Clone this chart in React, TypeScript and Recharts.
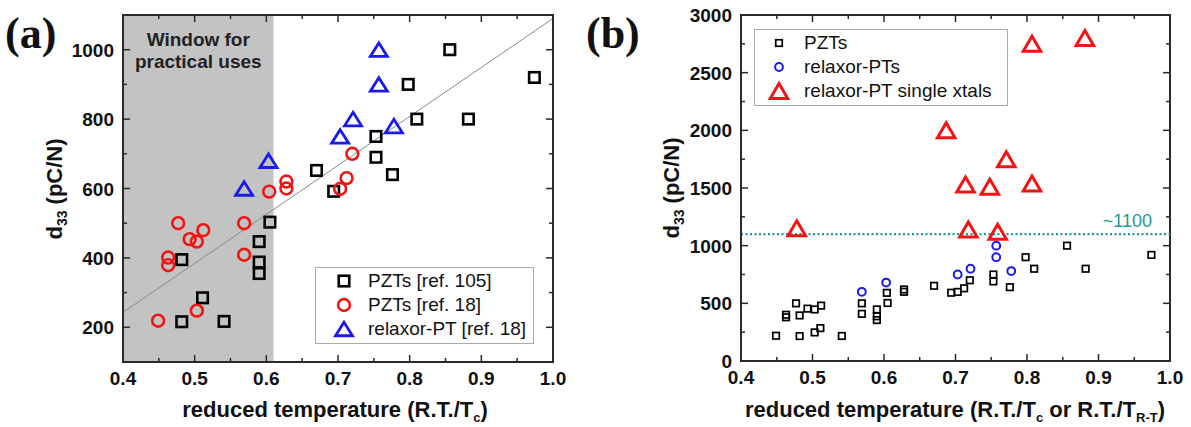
import React from "react";
import {
  ScatterChart,
  Scatter,
  XAxis,
  YAxis,
  ReferenceArea,
  ReferenceLine,
} from "recharts";

// ---- panel (a) data ----
const pzt105T = [0.856, 0.974, 0.798, 0.81, 0.882, 0.753, 0.753, 0.776, 0.67, 0.694, 0.605, 0.482, 0.59, 0.59, 0.59, 0.511, 0.482, 0.541];
const pzt105D = [1000, 920, 900, 800, 800, 750, 690, 640, 652, 592, 503, 395, 447, 388, 355, 285, 216, 217];

const pzt18T = [0.449, 0.463, 0.463, 0.477, 0.493, 0.503, 0.512, 0.503, 0.569, 0.569, 0.604, 0.628, 0.628, 0.703, 0.712, 0.72];
const pzt18D = [219, 401, 379, 500, 454, 447, 480, 248, 500, 409, 591, 620, 600, 599, 630, 700];

const relaxorT = [0.569, 0.603, 0.703, 0.721, 0.757, 0.757, 0.778];
const relaxorD = [600, 680, 750, 800, 1000, 900, 780];

// ---- panel (b) extra data ----
const xtalT = [0.478, 0.687, 0.714, 0.718, 0.748, 0.759, 0.771, 0.807, 0.807, 0.881];
const xtalD = [1150, 2000, 1530, 1140, 1510, 1120, 1750, 1540, 2750, 2800];

const trendT = [0.4, 1.0];
const trendD = [243, 1090];
const windowT = [0.4, 0.61];
const plateau = 1100;

const xDomain = [0.4, 1.0];
const yDomainA = [100, 1100];
const yDomainB = [0, 3000];
const xTicks = [0.4, 0.45, 0.5, 0.55, 0.6, 0.65, 0.7, 0.75, 0.8, 0.85, 0.9, 0.95, 1.0];
const yTicksA = [200, 300, 400, 500, 600, 700, 800, 900, 1000];
const yTicksB = [0, 250, 500, 750, 1000, 1250, 1500, 1750, 2000, 2250, 2500, 2750, 3000];

const legendA = ["PZTs [ref. 105]", "PZTs [ref. 18]", "relaxor-PT [ref. 18]"];
const legendB = ["PZTs", "relaxor-PTs", "relaxor-PT single xtals"];

const zip = (t: number[], d: number[]) => t.map((v, i) => ({ t: v, d: d[i] }));

const FONT = "Arial, 'Liberation Sans', Helvetica, sans-serif";
const RED = "#f21414";
const BLUE = "#1a1aee";
const TEAL = "#1f9999";
const AXIS = "#2a2a2a";

// marker shapes
const square = (s: number, c: string, w: number) => (p: any) =>
  <rect x={p.cx - s / 2} y={p.cy - s / 2} width={s} height={s} fill="none" stroke={c} strokeWidth={w} />;
const circle = (r: number, c: string, w: number) => (p: any) =>
  <circle cx={p.cx} cy={p.cy} r={r} fill="none" stroke={c} strokeWidth={w} />;
const triangle = (bw: number, h: number, c: string, w: number) => (p: any) =>
  <path d={`M${p.cx},${p.cy - h / 2}L${p.cx + bw / 2},${p.cy + h / 2}L${p.cx - bw / 2},${p.cy + h / 2}Z`} fill="none" stroke={c} strokeWidth={w} strokeLinejoin="miter" />;

const markersA = [square(10.5, "#000", 2.6), circle(5.9, RED, 2.6), triangle(17, 13.5, BLUE, 2.8)];
const markersB = [square(6.5, "#000", 1.7), circle(3.9, BLUE, 2), triangle(17.5, 15, RED, 3)];

const isTenth = (v: number) => Math.abs(v * 10 - Math.round(v * 10)) < 1e-6;
const majorA = (v: number) => v % 200 === 0;
const majorB = (v: number) => v % 500 === 0;
const fmtX = (v: number) => v.toFixed(1);
const fmtY = (v: number) => String(v);

// inward ticks, mirrored on the opposite edge of the box (span = plot size)
function BottomTick(props: any) {
  const { x, y, payload, span } = props;
  const v = payload.value;
  const len = isTenth(v) ? 7 : 4;
  const yt = y - span;
  return (
    <g>
      <line x1={x} y1={y} x2={x} y2={y - len} stroke={AXIS} strokeWidth={1.5} />
      <line x1={x} y1={yt} x2={x} y2={yt + len} stroke={AXIS} strokeWidth={1.5} />
      {isTenth(v) && <text x={x} y={y + 23} textAnchor="middle" fontFamily={FONT} fontWeight="bold" fontSize={19} fill="#111">{fmtX(v)}</text>}
    </g>
  );
}

function LeftTick(props: any) {
  const { x, y, payload, span, major } = props;
  const v = payload.value;
  const mj = major(v);
  const len = mj ? 7 : 4;
  const xr = x + span;
  return (
    <g>
      <line x1={x} y1={y} x2={x + len} y2={y} stroke={AXIS} strokeWidth={1.5} />
      <line x1={xr} y1={y} x2={xr - len} y2={y} stroke={AXIS} strokeWidth={1.5} />
      {mj && <text x={x - 9} y={y + 7} textAnchor="end" fontFamily={FONT} fontWeight="bold" fontSize={19} fill="#111">{fmtY(v)}</text>}
    </g>
  );
}

const axisLine = { stroke: AXIS, strokeWidth: 2 };

function YTitle({ x, y }: { x: number; y: number }) {
  return (
    <text x={x} y={y} transform={`rotate(-90, ${x}, ${y})`} textAnchor="middle" fontFamily={FONT} fontWeight="bold" fontSize={22} fill="#111">
      d<tspan fontSize={14} dy={5}>33</tspan><tspan dy={-5}> (pC/N)</tspan>
    </text>
  );
}

function XTitle({ x, y, both }: { x: number; y: number; both?: boolean }) {
  return (
    <text x={x} y={y} textAnchor="middle" fontFamily={FONT} fontWeight="bold" fontSize={22} fill="#111">
      reduced temperature (R.T./T<tspan fontSize={13} dy={5}>c</tspan>
      {both ? (
        <>
          <tspan dy={-5}> or R.T./T</tspan><tspan fontSize={13} dy={5}>R-T</tspan><tspan dy={-5}>)</tspan>
        </>
      ) : (
        <tspan dy={-5}>)</tspan>
      )}
    </text>
  );
}

function LegendBox({ names, markers, left, top, width, mx, tx }: any) {
  return (
    <div style={{ position: "absolute", left, top, width, border: "1px solid #aaa", background: "#fff", boxSizing: "border-box", padding: "1px 0 2px 0" }}>
      {names.map((n: string, i: number) => (
        <div key={n} style={{ position: "relative", height: 24 }}>
          <svg width={30} height={24} style={{ position: "absolute", left: mx - 15, top: 0 }}>
            {markers[i]({ cx: 15, cy: 12 })}
          </svg>
          <span style={{ position: "absolute", left: tx, top: 1, fontFamily: FONT, fontSize: 19, color: "#111", whiteSpace: "nowrap", lineHeight: "22px" }}>{n}</span>
        </div>
      ))}
    </div>
  );
}

function PanelA() {
  const W = 580, H = 427, m = { top: 15, right: 27, bottom: 0, left: 63 }, xh = 65, yw = 60;
  const plotW = W - m.left - m.right - yw;
  const plotH = H - m.top - m.bottom - xh;
  return (
    <ScatterChart width={W} height={H} margin={m}>
      <XAxis type="number" dataKey="t" domain={xDomain} ticks={xTicks} interval={0} height={xh}
        tickSize={0} tickMargin={0} tickLine={false} axisLine={axisLine}
        tick={<BottomTick span={plotH} />}
        label={{ content: () => <XTitle x={335} y={417} /> }} />
      <YAxis type="number" dataKey="d" domain={yDomainA} ticks={yTicksA} interval={0} width={yw}
        tickSize={0} tickMargin={0} tickLine={false} axisLine={axisLine}
        tick={<LeftTick span={plotW} major={majorA} />}
        label={{ content: () => <YTitle x={62} y={189} /> }} />
      <ReferenceArea x1={windowT[0]} x2={windowT[1]} y1={yDomainA[0]} y2={yDomainA[1]} fill="#c3c3c3" fillOpacity={1} stroke="none"
        label={{
          content: (p: any) => {
            const vb = p.viewBox;
            const cx = vb.x + vb.width / 2;
            return (
              <g fontFamily={FONT} fontWeight="bold" fontSize={19} fill="#222" textAnchor="middle">
                <text x={cx} y={vb.y + 31}>Window for</text>
                <text x={cx} y={vb.y + 53}>practical uses</text>
              </g>
            );
          },
        }} />
      <ReferenceArea x1={xDomain[0]} x2={xDomain[1]} y1={yDomainA[0]} y2={yDomainA[1]} fill="none" stroke={AXIS} strokeWidth={2} />
      <ReferenceLine segment={[{ x: trendT[0], y: trendD[0] }, { x: trendT[1], y: trendD[1] }]} stroke="#8a8a8a" strokeWidth={1} />
      <Scatter name={legendA[0]} data={zip(pzt105T, pzt105D)} shape={markersA[0]} isAnimationActive={false} />
      <Scatter name={legendA[1]} data={zip(pzt18T, pzt18D)} shape={markersA[1]} isAnimationActive={false} />
      <Scatter name={legendA[2]} data={zip(relaxorT, relaxorD)} shape={markersA[2]} isAnimationActive={false} />
    </ScatterChart>
  );
}

function PanelB() {
  const W = 591, H = 427, m = { top: 15, right: 21, bottom: 0, left: 71 }, xh = 66, yw = 70;
  const plotW = W - m.left - m.right - yw;
  const plotH = H - m.top - m.bottom - xh;
  return (
    <ScatterChart width={W} height={H} margin={m}>
      <XAxis type="number" dataKey="t" domain={xDomain} ticks={xTicks} interval={0} height={xh}
        tickSize={0} tickMargin={0} tickLine={false} axisLine={axisLine}
        tick={<BottomTick span={plotH} />}
        label={{ content: () => <XTitle x={355} y={417} both /> }} />
      <YAxis type="number" dataKey="d" domain={yDomainB} ticks={yTicksB} interval={0} width={yw}
        tickSize={0} tickMargin={0} tickLine={false} axisLine={axisLine}
        tick={<LeftTick span={plotW} major={majorB} />}
        label={{ content: () => <YTitle x={79} y={188} /> }} />
      <ReferenceArea x1={xDomain[0]} x2={xDomain[1]} y1={yDomainB[0]} y2={yDomainB[1]} fill="none" stroke={AXIS} strokeWidth={2} />
      <ReferenceLine y={plateau} stroke={TEAL} strokeWidth={2.2} strokeDasharray="2 2.5"
        label={{
          content: (p: any) => {
            const vb = p.viewBox;
            return (
              <text x={vb.x + vb.width - 18} y={vb.y - 7} textAnchor="end" fontFamily={FONT} fontSize={18} fill={TEAL}>~1100</text>
            );
          },
        }} />
      <Scatter name={legendB[0]} data={[...zip(pzt105T, pzt105D), ...zip(pzt18T, pzt18D)]} shape={markersB[0]} isAnimationActive={false} />
      <Scatter name={legendB[1]} data={zip(relaxorT, relaxorD)} shape={markersB[1]} isAnimationActive={false} />
      <Scatter name={legendB[2]} data={zip(xtalT, xtalD)} shape={markersB[2]} isAnimationActive={false} />
    </ScatterChart>
  );
}

export default function App() {
  const panelLabel: React.CSSProperties = {
    position: "absolute",
    fontFamily: "'Times New Roman', 'Liberation Serif', serif",
    fontWeight: "bold",
    fontSize: 44,
    lineHeight: "44px",
    color: "#111",
  };
  return (
    <div style={{ position: "absolute", left: 0, top: 0, width: 1191, height: 427, background: "#fff" }}>
      <div style={{ position: "absolute", left: 0, top: 0 }}>
        <PanelA />
      </div>
      <div style={{ position: "absolute", left: 600, top: 0 }}>
        <PanelB />
      </div>
      <LegendBox names={legendA} markers={markersA} left={315} top={267} width={219} mx={28} tx={52} />
      <LegendBox names={legendB} markers={markersB} left={754} top={29} width={254} mx={24} tx={49} />
      <div style={{ ...panelLabel, left: 5, top: 12 }}>(a)</div>
      <div style={{ ...panelLabel, left: 586, top: 12 }}>(b)</div>
    </div>
  );
}
